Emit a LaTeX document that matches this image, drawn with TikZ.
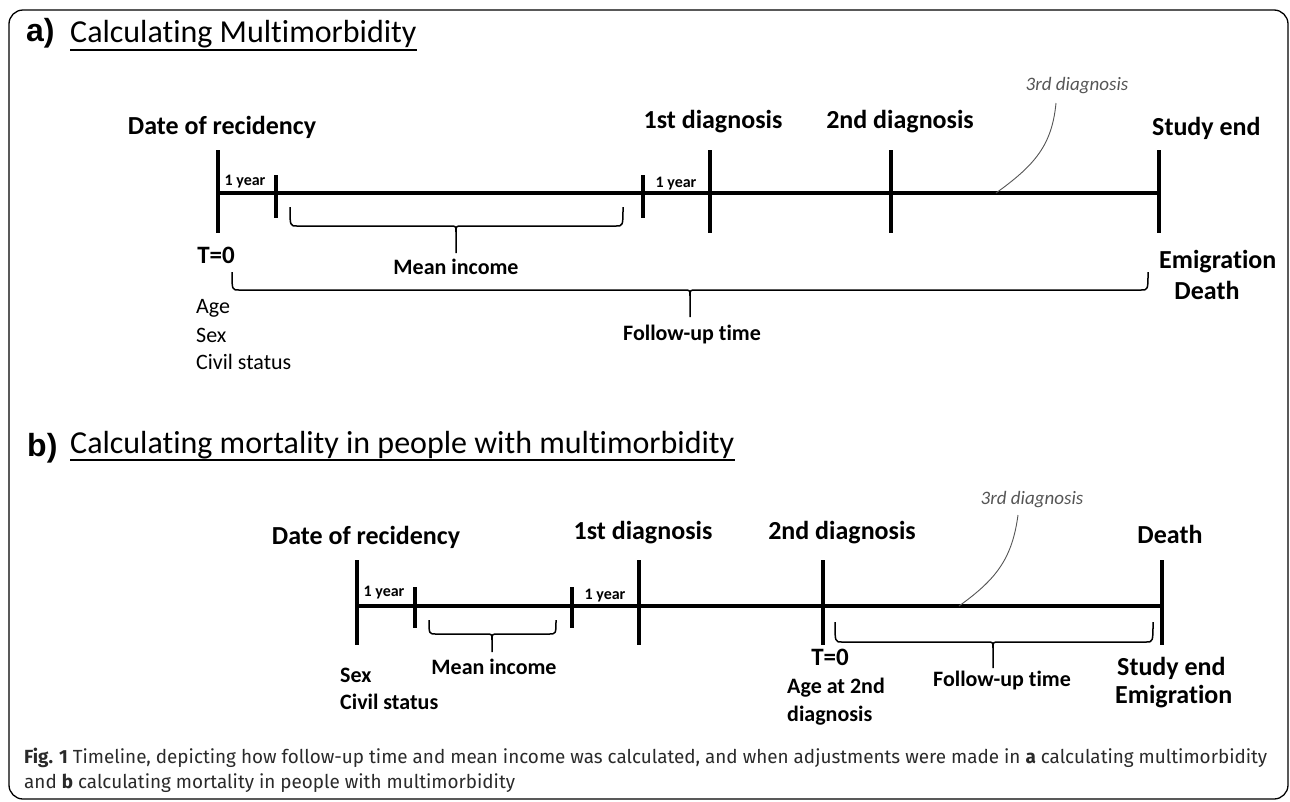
\documentclass[tikz,border=0pt]{standalone}
\usepackage{fontspec}
\setmainfont{Carlito}[Ligatures=NoCommon]
\newfontfamily\arialfont{Liberation Sans}
\newfontfamily\capfont{Fira Sans}
\usepackage{graphicx}
\definecolor{leadgray}{HTML}{555555}
\definecolor{captext}{HTML}{2A2A2A}
\tikzset{
  frame/.style={line width=1.3pt, rounded corners=14pt},
  tl/.style={line width=4pt},
  tickline/.style={line width=4pt},
  bracestyle/.style={line width=1.5pt, line join=round},
  leader/.style={line width=0.9pt, leadgray},
  panel/.style={font=\arialfont\bfseries\fontsize{32}{36}\selectfont, inner sep=0pt},
  ttl/.style={font=\fontsize{32}{36}\selectfont, inner sep=0pt},
  lbl/.style={font=\bfseries\fontsize{26}{30}\selectfont, inner sep=0pt},
  tzero/.style={font=\bfseries\fontsize{25}{28}\selectfont, inner sep=0pt},
  mid/.style={font=\bfseries\fontsize{22}{25}\selectfont, inner sep=0pt},
  cov/.style={font=\fontsize{22}{26}\selectfont, inner sep=0pt},
  covb/.style={font=\bfseries\fontsize{22}{26}\selectfont, inner sep=0pt},
  yr/.style={font=\bfseries\fontsize{16}{18}\selectfont, inner sep=0pt},
  diag/.style={font=\itshape\fontsize{19}{22}\selectfont, text=leadgray, inner sep=0pt},
  captxt/.style={font=\capfont\fontsize{19}{23}\selectfont, text=captext, inner sep=0pt, anchor=west}
}
\newcommand\mybrace[6]{%
  \draw[bracestyle] (#1,#3) .. controls (#1,#4) .. (#1+7,#4) -- (#5-6,#4) .. controls (#5,#4) .. (#5,#4+6) -- (#5,#6);
  \draw[bracestyle] (#5,#4+6) .. controls (#5,#4) .. (#5+6,#4) -- (#2-7,#4) .. controls (#2,#4) .. (#2,#3);
}
\newlength\capwidth
\newcommand\capone{\textbf{Fig. 1} Timeline, depicting how follow-up time and mean income was calculated, and when adjustments were made in \textbf{a} calculating multimorbidity}
\newcommand\captwo{and \textbf{b} calculating mortality in people with multimorbidity}
\begin{document}
\settowidth\capwidth{\capfont\fontsize{19}{23}\selectfont\capone}
\pgfmathsetmacro\capfac{1243/\capwidth}
\begin{tikzpicture}[x=1pt,y=-1pt]
\useasboundingbox (0,0) rectangle (1290,801);
\draw[frame] (9,10) rectangle (1288,799);

% ---------- panel a ----------
\node[panel, anchor=west] (pa) at (26,33) {a)};
\node[ttl, anchor=base west] (ta) at (70,42) {Calculating Multimorbidity};
\draw[line width=1.2pt] ([yshift=-8pt]ta.base west) -- ([yshift=-8pt]ta.base east);

\coordinate (a0) at (218,193);
\coordinate (a1) at (276,193);
\coordinate (a2) at (643,193);
\coordinate (a3) at (710,193);
\coordinate (a4) at (891,193);
\coordinate (a5) at (1159,193);
\coordinate (a3rd) at (996,193);
\draw[tl] (a0) -- (a5);
\foreach \p in {a0,a3,a4,a5} \draw[tickline] ([yshift=43pt]\p) -- ([yshift=-40pt]\p);
\foreach \p in {a1,a2} \draw[tickline] ([yshift=18pt]\p) -- ([yshift=-25pt]\p);

\node[lbl] (dateA) at (222,127) {Date of recidency};
\node[lbl] (firstA) at (713,122) {1st diagnosis};
\node[lbl] (secondA) at (900,122) {2nd diagnosis};
\node[lbl, anchor=west] (endA) at (1152,128) {Study end};
\node[diag] (thirdA) at (1077,86) {3rd diagnosis};
\draw[leader] (1056,103) .. controls (1052,145) and (1035,165) .. (a3rd);

\node[yr] (yrA1) at (245,182) {1 year};
\node[yr] (yrA2) at (676,184) {1 year};

\mybrace{290}{623}{207}{226}{456}{253}
\node[mid] (meanA) at (456,267) {Mean income};

\node[tzero] (t0A) at (216,255) {T=0};
\node[cov, anchor=west] (ageA) at (196,308) {Age};
\node[cov, anchor=west] (sexA) at (196,335) {Sex};
\node[cov, anchor=west] (civA) at (196,362) {Civil status};

\mybrace{232}{1148}{272}{290}{690}{317}
\node[mid] (fuA) at (692,335) {Follow-up time};

\node[lbl, anchor=west] (emA) at (1159,262) {Emigration};
\node[lbl] (deA) at (1207,290) {Death};

% ---------- panel b ----------
\node[panel, anchor=west] (pb) at (27,448) {b)};
\node[ttl, anchor=base west] (tb) at (70,453) {Calculating mortality in people with multimorbidity};
\draw[line width=1.2pt] ([yshift=-7pt]tb.base west) -- ([yshift=-7pt]tb.base east);

\coordinate (b0) at (357,606);
\coordinate (b1) at (415,606);
\coordinate (b2) at (572,606);
\coordinate (b3) at (639,606);
\coordinate (b4) at (823,606);
\coordinate (b5) at (1162,606);
\coordinate (b3rd) at (959,606);
\draw[tl] (b0) -- (b5);
\foreach \p in {b0,b3,b4,b5} \draw[tickline] ([yshift=46pt]\p) -- ([yshift=-39pt]\p);
\foreach \p in {b1,b2} \draw[tickline] ([yshift=19pt]\p) -- ([yshift=-22pt]\p);

\node[lbl] (dateB) at (366,537) {Date of recidency};
\node[lbl] (firstB) at (643,533) {1st diagnosis};
\node[lbl] (secondB) at (842,533) {2nd diagnosis};
\node[lbl] (deB) at (1170,534) {Death};
\node[diag] (thirdB) at (1032,500) {3rd diagnosis};
\draw[leader] (1018,515) .. controls (1012,560) and (995,580) .. (b3rd);

\node[yr] (yrB1) at (384,593) {1 year};
\node[yr] (yrB2) at (605,596) {1 year};

\mybrace{429}{556}{620}{634}{492}{652}
\node[mid] (meanB) at (494,667) {Mean income};

\node[covb, anchor=west] (sexB) at (340,675) {Sex};
\node[covb, anchor=west] (civB) at (340,702) {Civil status};

\node[tzero] (t0B) at (830,657) {T=0};
\node[covb, anchor=west] (ageB1) at (787,688) {Age at 2nd};
\node[covb, anchor=west] (ageB2) at (787,716) {diagnosis};

\mybrace{835}{1153}{622}{642}{993}{668}
\node[mid] (fuB) at (1002,680) {Follow-up time};

\node[lbl, anchor=west] (endB) at (1117,668) {Study end};
\node[lbl, anchor=west] (emB) at (1115,697) {Emigration};

% ---------- caption ----------
\node[captxt] (cap1) at (24,758) {\scalebox{\capfac}[1]{\capone}};
\node[captxt] (cap2) at (24,783) {\scalebox{\capfac}[1]{\captwo}};
\end{tikzpicture}
\end{document}
